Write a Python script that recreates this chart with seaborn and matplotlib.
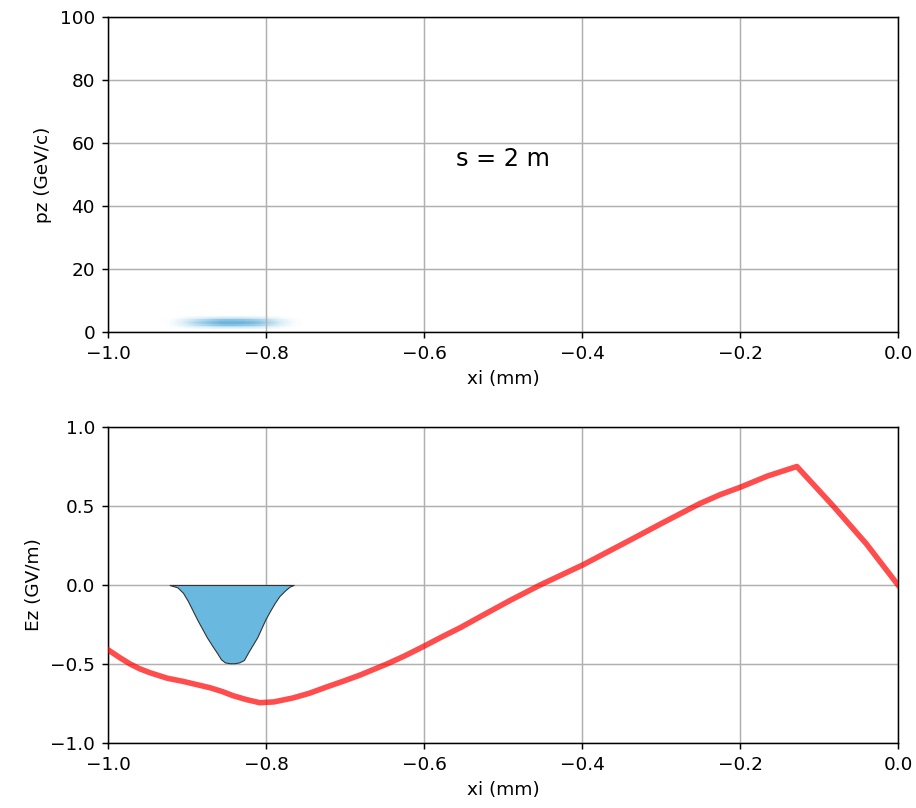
import numpy as np
import pandas as pd
import matplotlib
matplotlib.use("Agg")
import matplotlib.pyplot as plt
import seaborn as sns

# ---- data ----
ez_xi = [-1.0, -0.985, -0.972, -0.96, -0.947, -0.925, -0.905, -0.871, -0.855, -0.842,
         -0.825, -0.808, -0.79, -0.766, -0.745, -0.723, -0.70, -0.681, -0.647, -0.625,
         -0.601, -0.578, -0.554, -0.525, -0.49, -0.453, -0.399, -0.335, -0.30, -0.251,
         -0.225, -0.199, -0.165, -0.128, -0.082, -0.04, 0.0]
ez_val = [-0.41, -0.46, -0.50, -0.53, -0.555, -0.59, -0.61, -0.65, -0.675, -0.70,
          -0.725, -0.745, -0.74, -0.715, -0.685, -0.645, -0.605, -0.57, -0.50, -0.45,
          -0.39, -0.33, -0.27, -0.19, -0.095, 0.0, 0.127, 0.295, 0.388, 0.515,
          0.572, 0.62, 0.69, 0.75, 0.50, 0.26, 0.0]

bunch_xi = [-0.922, -0.912, -0.905, -0.899, -0.893, -0.887, -0.881, -0.875, -0.868,
            -0.862, -0.857, -0.852, -0.846, -0.840, -0.834, -0.828, -0.823, -0.817,
            -0.811, -0.806, -0.801, -0.795, -0.789, -0.783, -0.776, -0.770, -0.765]
bunch_ez = [0.0, -0.015, -0.05, -0.10, -0.16, -0.22, -0.275, -0.33, -0.385,
            -0.43, -0.47, -0.49, -0.495, -0.495, -0.49, -0.475, -0.43, -0.38,
            -0.33, -0.275, -0.22, -0.165, -0.114, -0.07, -0.035, -0.01, 0.0]

pz_levels = [1.5, 2.25, 3.0, 3.75, 4.5]
pz_weights = [0.3, 0.8, 1.0, 0.8, 0.3]

xi_ticks = [-1.0, -0.8, -0.6, -0.4, -0.2, 0.0]
pz_ticks = [0, 20, 40, 60, 80, 100]
ez_ticks = [-1.0, -0.5, 0.0, 0.5, 1.0]

# ---- figure ----
dpi = 133.33
fig = plt.figure(figsize=(916 / dpi, 808 / dpi), dpi=dpi)
W, H = 916, 808
ax1 = fig.add_axes([108 / W, 1 - 332 / H, 790 / W, 315 / H])
ax2 = fig.add_axes([108 / W, 1 - 743 / H, 790 / W, 316 / H])

# top: phase space density
rows = []
for x, q in zip(bunch_xi, bunch_ez):
    for p, w in zip(pz_levels, pz_weights):
        if q != 0:
            rows.append((x, p, (-q) ** 0.5 * w))
df = pd.DataFrame(rows, columns=["xi", "pz", "w"])
cmap = sns.blend_palette(["#ffffff", "#d6ebf6", "#9fcfe9", "#64b1da"], as_cmap=True)
sns.kdeplot(data=df, x="xi", y="pz", weights="w", fill=True, cmap=cmap,
            levels=40, thresh=0.01, bw_adjust=0.75, ax=ax1)
ax1.set_xlim(-1.0, 0.0)
ax1.set_ylim(0, 100)
ax1.set_xticks(xi_ticks)
ax1.set_yticks(pz_ticks)
ax1.grid(True)
ax1.set_xlabel("xi (mm)")
ax1.set_ylabel("pz (GeV/c)")
ax1.text(-0.5, 55, "s = 2 m", fontsize=13, ha="center", va="center")

# bottom: field + bunch current
ax2.fill_between(bunch_xi, bunch_ez, 0, facecolor="#68b8e0", edgecolor="#333333",
                 linewidth=0.6, zorder=2)
sns.lineplot(x=ez_xi, y=ez_val, color="r", alpha=0.7, linewidth=3, ax=ax2,
             sort=False, zorder=3)
ax2.set_xlim(-1.0, 0.0)
ax2.set_ylim(-1.0, 1.0)
ax2.set_xticks(xi_ticks)
ax2.set_yticks(ez_ticks)
ax2.grid(True)
ax2.set_xlabel("xi (mm)")
ax2.set_ylabel("Ez (GV/m)")

fig.savefig("out.png", dpi=dpi)
